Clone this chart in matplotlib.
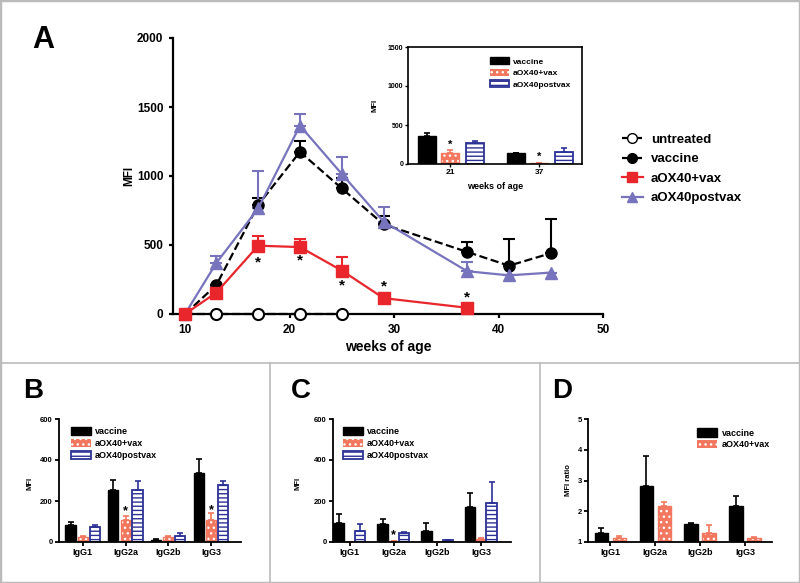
import numpy as np
import matplotlib.pyplot as plt
from matplotlib.lines import Line2D
from matplotlib.patches import Patch, Rectangle

plt.rcParams['font.family'] = ['Liberation Sans', 'DejaVu Sans']
plt.rcParams['font.weight'] = 'bold'
plt.rcParams['axes.labelweight'] = 'bold'
plt.rcParams['hatch.linewidth'] = 1.0

RED = '#e8262b'
PURPLE = '#7773bd'
SALMON = '#f2775e'
NAVY = '#2c3196'
GRID = '#bbbbbb'

# ---- panel A: MFI over time
weeks_untreated = [10, 13, 17, 21, 25]
mfi_untreated = [0, 0, 0, 0, 0]

weeks_vaccine = [10, 13, 17, 21, 25, 29, 37, 41, 45]
mfi_vaccine = [0, 210, 790, 1175, 910, 650, 450, 350, 440]
err_vaccine = [0, 0, 50, 75, 75, 60, 70, 190, 250]

weeks_aox = [10, 13, 17, 21, 25, 29, 37]
mfi_aox = [0, 155, 495, 485, 315, 115, 45]
err_aox = [0, 0, 70, 60, 95, 0, 0]

weeks_post = [10, 13, 17, 21, 25, 29, 37, 41, 45]
mfi_post = [0, 370, 765, 1365, 1015, 670, 310, 280, 300]
err_post = [0, 50, 270, 85, 125, 105, 70, 0, 0]

star_weeks = [17, 21, 25, 29, 37]
star_mfi = [370, 385, 205, 200, 120]

# inset: bars at 21 and 37 weeks
inset_groups = ['21', '37']
inset_vaccine = [365, 135]
inset_vaccine_err = [30, 10]
inset_aox = [140, 8]
inset_aox_err = [35, 0]
inset_post = [275, 150]
inset_post_err = [15, 60]
inset_star = [250, 90]

# ---- panels B, C, D: isotypes
isotypes = ['IgG1', 'IgG2a', 'IgG2b', 'IgG3']

b_vaccine = [84, 256, 10, 339]
b_vaccine_err = [16, 46, 3, 67]
b_aox = [22, 105, 22, 108]
b_aox_err = [5, 22, 6, 35]
b_post = [74, 253, 27, 276]
b_post_err = [8, 45, 18, 22]
b_star = [150, 155]  # above aOX40+vax at IgG2a, IgG3

c_vaccine = [92, 89, 55, 173]
c_vaccine_err = [45, 22, 37, 64]
c_aox = [2, 3, 0, 15]
c_aox_err = [0, 0, 0, 3]
c_post = [56, 44, 8, 192]
c_post_err = [31, 6, 2, 102]
c_star = [32]  # above aOX40+vax at IgG2a

d_vaccine = [1.28, 2.83, 1.58, 2.17]
d_vaccine_err = [0.18, 0.98, 0.03, 0.33]
d_aox = [1.13, 2.18, 1.30, 1.12]
d_aox_err = [0.07, 0.12, 0.24, 0.03]

DOTS = '...'
STRIPES = '----'


def px(x0, y0, x1, y1):
    # pixel box -> figure fraction rect
    return [x0 / 800, 1 - y1 / 583, (x1 - x0) / 800, (y1 - y0) / 583]


def style_axis(ax, lw=1.2, size=6, pad=1.5):
    for s in ['top', 'right']:
        ax.spines[s].set_visible(False)
    for s in ['left', 'bottom']:
        ax.spines[s].set_linewidth(lw)
    ax.tick_params(direction='out', width=lw, length=3, labelsize=size, pad=pad)


def bars(ax, x, vals, errs, kind, w, cap=2.5):
    x = np.asarray(x, dtype=float)
    lo = np.zeros(len(vals))
    if kind == 'vaccine':
        ax.bar(x, vals, w, color='black', edgecolor='black', lw=1)
        col = 'black'
    elif kind == 'aox':
        ax.bar(x, vals, w, color=SALMON, edgecolor='white', hatch=DOTS, lw=0)
        ax.bar(x, vals, w, fill=False, edgecolor=SALMON, lw=1)
        col = SALMON
    else:
        ax.bar(x, vals, w, color='white', edgecolor=NAVY, hatch=STRIPES, lw=1.3)
        col = NAVY
    ax.errorbar(x, vals, yerr=[lo, errs], fmt='none', ecolor=col,
                capsize=cap, elinewidth=1.2, capthick=1.2)


def bar_handles(kinds):
    h = []
    for k in kinds:
        if k == 'vaccine':
            h.append(Patch(facecolor='black', edgecolor='black', label='vaccine'))
        elif k == 'aox':
            h.append(Patch(facecolor=SALMON, edgecolor='white', hatch=DOTS, lw=0, label='aOX40+vax'))
        else:
            h.append(Patch(facecolor='white', edgecolor=NAVY, hatch=STRIPES, lw=1.3, label='aOX40postvax'))
    return h


fig = plt.figure(figsize=(8, 5.83), dpi=100)

# ---------------- panel A
ax = fig.add_axes(px(173, 38, 603, 314))
style_axis(ax, lw=1.6, size=8.5, pad=4)
ax.plot(weeks_untreated, mfi_untreated, ls='--', color='black', lw=1.6, marker='o',
        ms=8, mfc='white', mec='black', mew=1.5, clip_on=False, zorder=3)
ax.errorbar(weeks_vaccine, mfi_vaccine, yerr=[np.zeros(9), err_vaccine], fmt='none',
            ecolor='black', capsize=4, elinewidth=1.5, capthick=1.5)
ax.plot(weeks_vaccine, mfi_vaccine, ls='--', color='black', lw=1.6, marker='o', ms=8,
        clip_on=False, zorder=4)
ax.errorbar(weeks_aox, mfi_aox, yerr=[np.zeros(7), err_aox], fmt='none',
            ecolor=RED, capsize=4, elinewidth=1.5, capthick=1.5)
ax.plot(weeks_aox, mfi_aox, ls='-', color=RED, lw=1.6, marker='s', ms=8,
        clip_on=False, zorder=5)
ax.errorbar(weeks_post, mfi_post, yerr=[np.zeros(9), err_post], fmt='none',
            ecolor=PURPLE, capsize=4, elinewidth=1.5, capthick=1.5)
ax.plot(weeks_post, mfi_post, ls='-', color=PURPLE, lw=1.6, marker='^', ms=8,
        clip_on=False, zorder=4)
for wk, m in zip(star_weeks, star_mfi):
    ax.text(wk, m, '*', ha='center', va='center', fontsize=11)
ax.set_xlim(8.85, 50)
ax.set_ylim(0, 2000)
ax.set_xticks([10, 20, 30, 40, 50])
ax.set_yticks([0, 500, 1000, 1500, 2000])
fig.text(388 / 800, 1 - 347 / 583, 'weeks of age', ha='center', va='center', fontsize=10)
fig.text(129 / 800, 1 - 176 / 583, 'MFI', ha='center', va='center', fontsize=8.5, rotation=90)
fig.text(43 / 800, 1 - 40 / 583, 'A', ha='center', va='center', fontsize=22)

main_handles = [
    Line2D([], [], ls='--', color='black', lw=1.6, marker='o', ms=7, mfc='white', mec='black', label='untreated'),
    Line2D([], [], ls='--', color='black', lw=1.6, marker='o', ms=7, label='vaccine'),
    Line2D([], [], ls='-', color=RED, lw=1.6, marker='s', ms=7, label='aOX40+vax'),
    Line2D([], [], ls='-', color=PURPLE, lw=1.6, marker='^', ms=7, label='aOX40postvax'),
]
fig.legend(handles=main_handles, loc='upper left', bbox_to_anchor=(615 / 800, 1 - 127 / 583),
           frameon=False, borderpad=0, handlelength=1.6, handletextpad=0.6,
           labelspacing=0.55, prop={'weight': 'bold', 'size': 9.5})

# inset
ins = fig.add_axes(px(408, 47, 582, 164))
for s in ins.spines.values():
    s.set_linewidth(1.2)
ins.tick_params(direction='out', width=1, length=2.5, labelsize=5, pad=1)
xi = np.arange(len(inset_groups))
bars(ins, xi - 0.26, inset_vaccine, inset_vaccine_err, 'vaccine', 0.2, cap=2)
bars(ins, xi, inset_aox, inset_aox_err, 'aox', 0.2, cap=2)
bars(ins, xi + 0.28, inset_post, inset_post_err, 'post', 0.2, cap=2)
for i, m in enumerate(inset_star):
    ins.text(xi[i], m, '*', ha='center', va='center', fontsize=8)
ins.set_xlim(-0.47, 1.48)
ins.set_ylim(0, 1500)
ins.set_yticks([0, 500, 1000, 1500])
ins.set_xticks(xi)
ins.set_xticklabels(inset_groups, fontsize=6)
fig.text(495 / 800, 1 - 187 / 583, 'weeks of age', ha='center', va='center', fontsize=6.5)
fig.text(375 / 800, 1 - 105 / 583, 'MFI', ha='center', va='center', fontsize=5.5, rotation=90)
ins.legend(handles=bar_handles(['vaccine', 'aox', 'post']), loc='upper left',
           bbox_to_anchor=(0.45, 0.95), frameon=False, borderpad=0, handlelength=2.2,
           handleheight=1.0, handletextpad=0.5, labelspacing=0.35,
           prop={'weight': 'bold', 'size': 6})

# ---------------- panels B, C, D
xg = np.arange(len(isotypes))

axb = fig.add_axes(px(59, 419, 241, 542))
style_axis(axb, lw=1.3, size=5.5)
bars(axb, xg - 0.29, b_vaccine, b_vaccine_err, 'vaccine', 0.24)
bars(axb, xg, b_aox, b_aox_err, 'aox', 0.24)
bars(axb, xg + 0.28, b_post, b_post_err, 'post', 0.24)
for i, m in zip([1, 3], b_star):
    axb.text(xg[i], m, '*', ha='center', va='center', fontsize=9)
axb.set_xlim(-0.56, 3.7)
axb.set_ylim(0, 600)
axb.set_yticks([0, 200, 400, 600])
axb.set_xticks(xg)
axb.set_xticklabels(isotypes, fontsize=6.5)
axb.legend(handles=bar_handles(['vaccine', 'aox', 'post']), loc='upper left',
           bbox_to_anchor=(0.04, 0.97), frameon=False, borderpad=0, handlelength=2.2,
           handleheight=1.0, handletextpad=0.5, labelspacing=0.3,
           prop={'weight': 'bold', 'size': 6.5})
fig.text(30 / 800, 1 - 483 / 583, 'MFI', ha='center', va='center', fontsize=5.5, rotation=90)
fig.text(33 / 800, 1 - 391 / 583, 'B', ha='center', va='center', fontsize=20)

axc = fig.add_axes(px(333, 419, 511, 542))
style_axis(axc, lw=1.3, size=5.5)
bars(axc, xg - 0.25, c_vaccine, c_vaccine_err, 'vaccine', 0.24)
bars(axc, xg, c_aox, c_aox_err, 'aox', 0.24)
bars(axc, xg + 0.24, c_post, c_post_err, 'post', 0.24)
axc.text(xg[1], c_star[0], '*', ha='center', va='center', fontsize=9)
axc.set_xlim(-0.38, 3.68)
axc.set_ylim(0, 600)
axc.set_yticks([0, 200, 400, 600])
axc.set_xticks(xg)
axc.set_xticklabels(isotypes, fontsize=6.5)
axc.legend(handles=bar_handles(['vaccine', 'aox', 'post']), loc='upper left',
           bbox_to_anchor=(0.03, 0.97), frameon=False, borderpad=0, handlelength=2.2,
           handleheight=1.0, handletextpad=0.5, labelspacing=0.3,
           prop={'weight': 'bold', 'size': 6.5})
fig.text(298 / 800, 1 - 483 / 583, 'MFI', ha='center', va='center', fontsize=5.5, rotation=90)
fig.text(301 / 800, 1 - 391 / 583, 'C', ha='center', va='center', fontsize=20)

axd = fig.add_axes(px(588, 419, 772, 542))
style_axis(axd, lw=1.3, size=5.5)
bars(axd, xg - 0.2, d_vaccine, d_vaccine_err, 'vaccine', 0.29)
bars(axd, xg + 0.2, d_aox, d_aox_err, 'aox', 0.29)
axd.set_xlim(-0.49, 3.6)
axd.set_ylim(1, 5)
axd.set_yticks([1, 2, 3, 4, 5])
axd.set_xticks(xg)
axd.set_xticklabels(isotypes, fontsize=6.5)
axd.legend(handles=bar_handles(['vaccine', 'aox']), loc='upper left',
           bbox_to_anchor=(0.57, 0.96), frameon=False, borderpad=0, handlelength=2.2,
           handleheight=1.0, handletextpad=0.5, labelspacing=0.3,
           prop={'weight': 'bold', 'size': 6.5})
fig.text(568 / 800, 1 - 480 / 583, 'MFI ratio', ha='center', va='center', fontsize=5.5, rotation=90)
fig.text(562 / 800, 1 - 391 / 583, 'D', ha='center', va='center', fontsize=20)

# panel dividers and outer frame
yline = 1 - 363 / 583
fig.add_artist(Line2D([0, 1], [yline, yline], transform=fig.transFigure, color=GRID, lw=1.2))
for xv in [270 / 800, 540 / 800]:
    fig.add_artist(Line2D([xv, xv], [0, yline], transform=fig.transFigure, color=GRID, lw=1.2))
fig.add_artist(Rectangle((0, 0), 1, 1, transform=fig.transFigure, fill=False,
                         edgecolor=GRID, lw=2.5))

fig.savefig('out.png', dpi=100)
